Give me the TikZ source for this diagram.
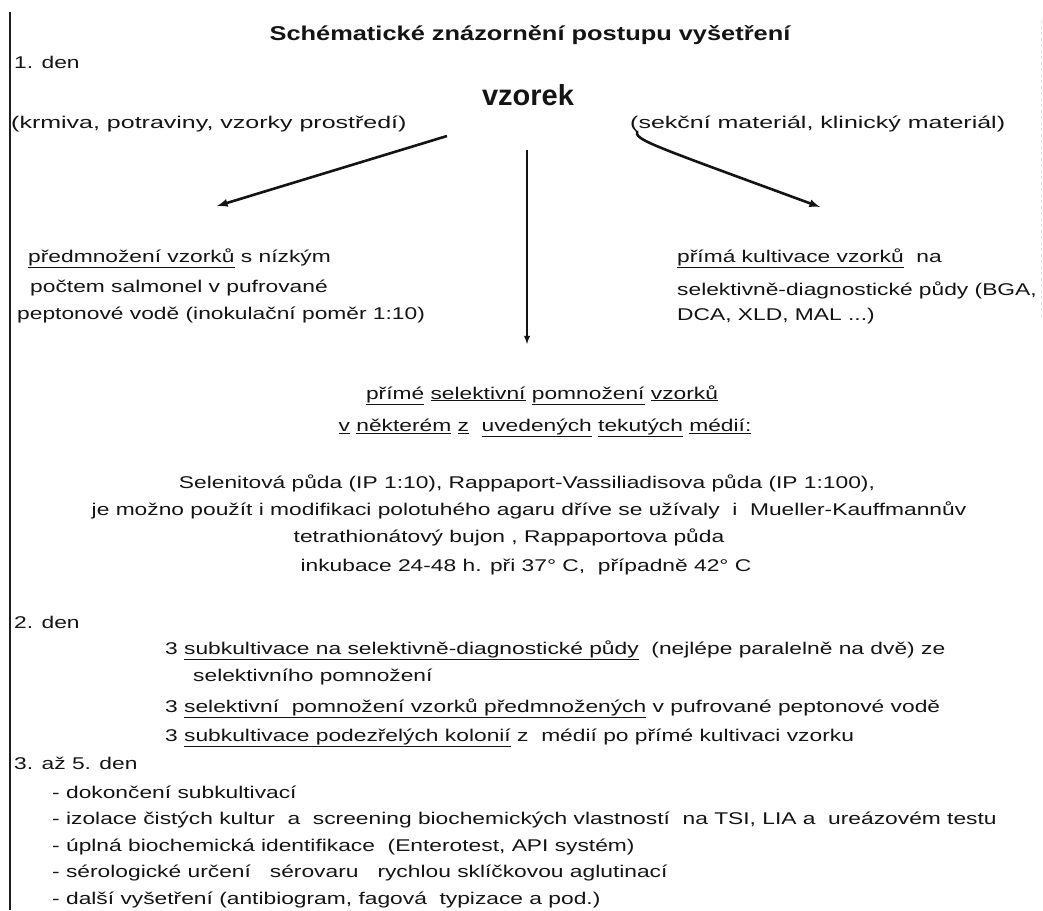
\documentclass[tikz,border=0pt]{standalone}
\usepackage{fontspec}
\setmainfont{Liberation Sans}[FakeStretch=1.34]
\newfontfamily\titlefont{Liberation Sans}[FakeStretch=1.27]
\newfontfamily\widefont{Liberation Sans}[FakeStretch=1.47]
\newfontfamily\headfont{Liberation Sans}
\usepackage{tikz}
\usetikzlibrary{arrows}
\definecolor{ink}{RGB}{20, 20, 20}
\definecolor{frame}{RGB}{30, 30, 30}
\definecolor{ghost}{RGB}{225, 225, 225}

\tikzset{
  txt/.style   ={inner sep=0pt, anchor=west, text=ink, font=\fontsize{17}{20}\selectfont},
  ctxt/.style  ={txt, anchor=center},
  wtxt/.style  ={txt, font=\widefont\fontsize{17}{20}\selectfont},
  arr/.style   ={-latex, line width=2.6pt, color=ink},
  down/.style  ={-latex, line width=1.8pt, color=ink},
}

\begin{document}
\begin{tikzpicture}[x=1pt, y=-1pt]
            \useasboundingbox                                             (0, 0) rectangle (1043, 910);
            \draw[frame, line width=1.5pt]                                (10, 12) -- (10, 910);
            \draw[ghost, line width=0.8pt, dashed]                        (1041, 20) -- (1041, 320);
            \node[ctxt, font=\titlefont\bfseries\fontsize{20}{24}\selectfont] (title)   at (530, 35)  {Schématické znázornění postupu vyšetření};
            \node[txt] (den1)    at (14, 62)   {1. den};
            \node[ctxt, font=\headfont\bfseries\fontsize{29}{32}\selectfont] (vzorek)  at (528, 95)  {vzorek};
            \node[wtxt] (krmiva)  at (11, 124)  {(krmiva, potraviny, vzorky prostředí)};
            \node[wtxt] (sekce)   at (630, 124) {(sekční materiál, klinický materiál)};
            \coordinate (lstart) at (447, 136);
            \coordinate (ltip)   at (217, 206);
            \coordinate (rstart) at (637, 131);
            \coordinate (rtip)   at (820, 207);
            \coordinate (dstart) at (527, 150);
            \coordinate (dtip)   at (527, 344);
            \draw[arr]  (lstart) -- (ltip);
            \draw[arr]  (rstart) .. controls (635, 140) and (646, 143) .. (rtip);
            \draw[down] (dstart) -- (dtip);
            \node[txt] (pred1)   at (28, 258)  {\underline{předmnožení vzorků} s nízkým};
            \node[txt] (pred2)   at (30, 288)  {počtem salmonel v pufrované};
            \node[txt] (pred3)   at (17, 315)  {peptonové vodě (inokulační poměr 1:10)};
            \node[txt] (prima1)  at (677, 258) {\underline{přímá kultivace vzorků}\ \ na};
            \node[txt] (prima2)  at (677, 290) {selektivně-diagnostické půdy (BGA,};
            \node[txt] (prima3)  at (677, 316) {DCA, XLD, MAL ...)};
            \node[ctxt] (selekt1) at (542, 395) {\underline{přímé} \underline{selektivní} \underline{pomnožení} \underline{vzorků}};
            \node[ctxt] (selekt2) at (545, 428) {\underline{v} \underline{některém} \underline{z}\ \ \underline{uvedených} \underline{tekutých} \underline{médií:}};
            \node[ctxt] (media1)  at (527, 483) {Selenitová půda (IP 1:10), Rappaport-Vassiliadisova půda (IP 1:100),};
            \node[ctxt] (media2)  at (529, 510) {je možno použít i modifikaci polotuhého agaru dříve se užívaly\ \ i\ \ Mueller-Kauffmannův};
            \node[ctxt] (media3)  at (509, 537) {tetrathionátový bujon , Rappaportova půda};
            \node[ctxt] (inkub)   at (526, 567) {inkubace 24-48 h. při 37° C,\ \ případně 42° C};
            \node[txt] (den2)    at (14, 622)  {2. den};
            \node[txt] (sub1)    at (165, 650) {3 \underline{subkultivace na selektivně-diagnostické půdy}\ \ (nejlépe paralelně na dvě) ze};
            \node[txt] (sub1b)   at (193, 677) {selektivního pomnožení};
            \node[txt] (sub2)    at (165, 708) {3 \underline{selektivní\ \ pomnožení vzorků předmnožených} v pufrované peptonové vodě};
            \node[txt] (sub3)    at (165, 738) {3 \underline{subkultivace podezřelých kolonií} z\ \ médií po přímé kultivaci vzorku};
            \node[txt] (den35)   at (14, 763)  {3. až 5. den};
            \node[txt] (krok1)   at (52, 792)  {- dokončení subkultivací};
            \node[txt] (krok2)   at (52, 820)  {- izolace čistých kultur\ \ a\ \ screening biochemických vlastností\ \ na TSI, LIA a\ \ ureázovém testu};
            \node[txt] (krok3)   at (52, 847)  {- úplná biochemická identifikace\ \ (Enterotest, API systém)};
            \node[txt] (krok4)   at (52, 873)  {- sérologické určení\ \ \ sérovaru\ \ \ rychlou sklíčkovou aglutinací};
            \node[txt] (krok5)   at (52, 900)  {- další vyšetření (antibiogram, fagová\ \ typizace a pod.)};
            \end{tikzpicture}
\end{document}
